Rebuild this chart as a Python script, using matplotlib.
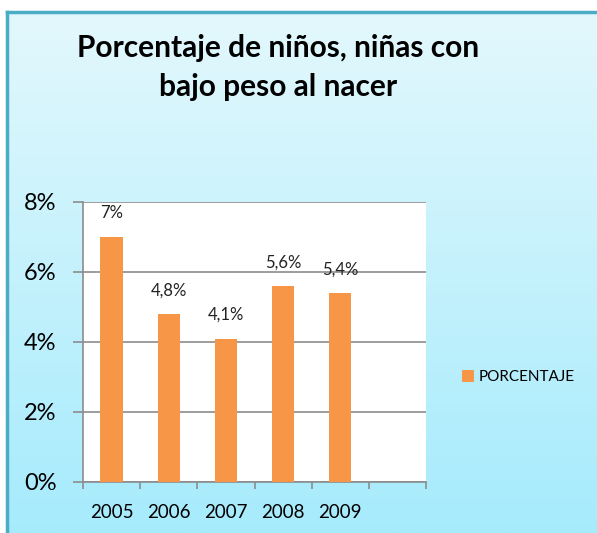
import numpy as np
import matplotlib.pyplot as plt
from matplotlib.colors import LinearSegmentedColormap

years = ["2005", "2006", "2007", "2008", "2009", ""]
values = [7.0, 4.8, 4.1, 5.6, 5.4]
labels = ["7%", "4,8%", "4,1%", "5,6%", "5,4%"]
yticks = [0, 2, 4, 6, 8]

plt.rcParams['font.family'] = ['Lato', 'DejaVu Sans']

W, H = 597, 533
fig = plt.figure(figsize=(W / 100, H / 100), dpi=100)
fig.patch.set_facecolor("white")

# gradient background box
bg = fig.add_axes([7 / W, 0, 1 - 7 / W, 1 - 12 / H])
bg.set_axis_off()
cmap = LinearSegmentedColormap.from_list("bg", ["#e3f8fd", "#a6ebfc"])
bg.imshow(np.linspace(0, 1, 256).reshape(-1, 1), aspect="auto", cmap=cmap,
          extent=[0, 1, 0, 1])
bg.set_xlim(0, 1)
bg.set_ylim(0, 1)
bg.plot([0, 0], [0, 1], color="#4bacc6", lw=2.5, clip_on=False)
bg.plot([0, 1], [1, 1], color="#4bacc6", lw=2.5, clip_on=False)

# plot area
left, right, top, bottom = 83, 426, 202, 482
ax = fig.add_axes([left / W, 1 - bottom / H, (right - left) / W, (bottom - top) / H])
ax.set_facecolor("white")
x = np.arange(len(values))
ax.bar(x, values, width=0.39, color="#f79646", label="PORCENTAJE", zorder=3)
for xi, v, lab in zip(x, values, labels):
    ax.text(xi, v + 0.45, lab, ha="center", va="bottom", fontsize=12, color="#222222")

ax.set_xlim(-0.5, len(years) - 0.5)
ax.set_ylim(0, 8)
ax.set_yticks(yticks)
ax.set_yticklabels([f"{t}%" for t in yticks], fontsize=17)
ax.yaxis.grid(True, color="#8c8c8c", lw=1.2, zorder=0)
ax.set_xticks(np.arange(len(years) + 1) - 0.5, minor=False)
ax.set_xticklabels([])
ax.set_xticks(np.arange(len(years)), minor=True)
ax.set_xticklabels(years, minor=True, fontsize=13.5)
ax.tick_params(axis="x", which="minor", length=0, pad=16)
ax.tick_params(axis="x", which="major", length=5, color="#8c8c8c", width=1.2)
ax.tick_params(axis="y", length=7, color="#8c8c8c", width=1.2, pad=12)
for s in ["top", "right"]:
    ax.spines[s].set_visible(False)
for s in ["left", "bottom"]:
    ax.spines[s].set_color("#8c8c8c")
    ax.spines[s].set_linewidth(1.2)

fig.text(278 / W, 1 - 48 / H, "Porcentaje de niños, niñas con", ha="center", va="center",
         fontsize=21.5, fontweight="bold")
fig.text(278 / W, 1 - 87 / H, "bajo peso al nacer", ha="center", va="center",
         fontsize=21.5, fontweight="bold")

leg = fig.legend(loc="center left", bbox_to_anchor=(448 / W, 1 - 377 / H), frameon=False,
                 fontsize=11, handlelength=0.8, handleheight=0.8, handletextpad=0.3)

fig.savefig("out.png", dpi=100)
